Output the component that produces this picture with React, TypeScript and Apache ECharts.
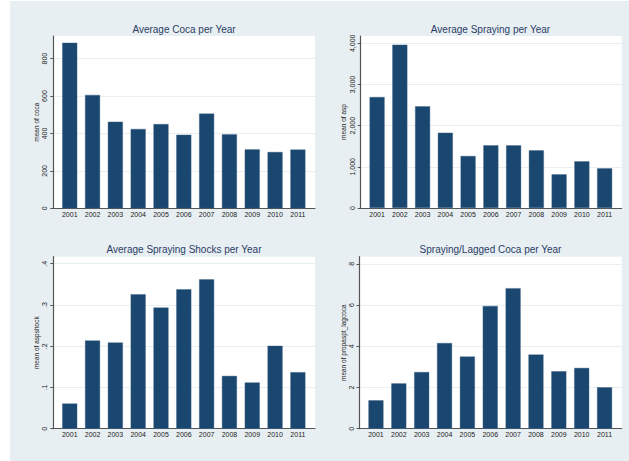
import React, { useEffect, useRef } from "react";
import * as echarts from "echarts";

const years = ["2001", "2002", "2003", "2004", "2005", "2006", "2007", "2008", "2009", "2010", "2011"];
const coca = [885, 606, 463, 424, 450, 393, 506, 396, 315, 301, 314];
const asp = [2696, 3967, 2470, 1829, 1263, 1523, 1523, 1401, 818, 1134, 964];
const aspshock = [0.061, 0.214, 0.209, 0.326, 0.294, 0.338, 0.362, 0.128, 0.112, 0.201, 0.137];
const propLag = [1.38, 2.2, 2.75, 4.16, 3.5, 5.96, 6.82, 3.6, 2.79, 2.95, 2.01];

const cocaTicks = [0, 200, 400, 600, 800];
const aspTicks = [0, 1000, 2000, 3000, 4000];
const shockTicks = [0, 0.1, 0.2, 0.3, 0.4];
const propTicks = [0, 2, 4, 6, 8];

const titles = [
  "Average Coca per Year",
  "Average Spraying per Year",
  "Average Spraying Shocks per Year",
  "Spraying/Lagged Coca per Year",
];
const yNames = ["mean of coca", "mean of asp", "mean of aspshock", "mean of propaspt_lagcoca"];

const NAVY = "#1a476f";
const AXIS = "#555555";
const FONT = "'Liberation Sans', Arial, sans-serif";

export default function App() {
  const ref = useRef<HTMLDivElement>(null);
  useEffect(() => {
    if (!ref.current) return;
    const chart = echarts.init(ref.current, undefined, { renderer: "svg" });

    const panels = [
      { data: coca, ticks: cocaTicks, max: 921, fmt: (v: number) => String(v), grid: { left: 53.3, top: 36, width: 261.7, height: 172.3 }, nameGap: 13.5, titleX: 184, titleY: 24.5 },
      { data: asp, ticks: aspTicks, max: 4178, fmt: (v: number) => v.toLocaleString("en-US"), grid: { left: 360.7, top: 36, width: 261, height: 172 }, nameGap: 13.5, titleX: 490.5, titleY: 24.5 },
      { data: aspshock, ticks: shockTicks, max: 0.417, fmt: (v: number) => (v === 0 ? "0" : String(v).replace(/^0/, "")), grid: { left: 53.3, top: 256.7, width: 261.7, height: 172 }, nameGap: 13.5, titleX: 184, titleY: 244.5 },
      { data: propLag, ticks: propTicks, max: 8.35, fmt: (v: number) => String(v), grid: { left: 359.5, top: 256.7, width: 262.2, height: 172 }, nameGap: 12.5, titleX: 490.5, titleY: 244.5 },
    ];

    const idx = years.map((_, i) => i);

    const option: any = {
      animation: false,
      backgroundColor: "#ffffff",
      textStyle: { fontFamily: FONT },
      graphic: [
        {
          type: "rect",
          left: 10,
          top: 1,
          z: -100,
          silent: true,
          shape: { width: 619, height: 460 },
          style: { fill: "#e8eff2" },
        },
      ],
      title: panels.map((p, i) => ({
        text: titles[i],
        left: p.titleX,
        top: p.titleY,
        textAlign: "center",
        padding: 0,
        textStyle: { fontSize: 10, fontWeight: "normal", color: "#2a3d66", fontFamily: FONT },
      })),
      grid: panels.map((p) => ({
        ...p.grid,
        show: true,
        backgroundColor: "#ffffff",
        borderWidth: 0,
        containLabel: false,
      })),
      xAxis: panels.map((p, i) => ({
        type: "value",
        gridIndex: i,
        min: -0.72,
        max: 10.75,
        axisLine: { show: true, onZero: false, lineStyle: { color: AXIS, width: 1.2 } },
        axisTick: { show: false, customValues: idx },
        splitLine: { show: false },
        axisLabel: {
          customValues: idx,
          formatter: (v: number) => years[Math.round(v)],
          fontSize: 7,
          color: "#222",
          margin: 2.5,
          fontFamily: FONT,
        },
      })),
      yAxis: panels.map((p, i) => ({
        type: "value",
        gridIndex: i,
        min: 0,
        max: p.max,
        name: yNames[i],
        nameLocation: "middle",
        nameGap: p.nameGap,
        nameTextStyle: { fontSize: 6.5, color: "#222", fontFamily: FONT },
        axisLine: { show: true, onZero: false, lineStyle: { color: AXIS, width: 1.2 } },
        axisTick: { show: true, length: 3, customValues: p.ticks, lineStyle: { color: AXIS } },
        splitLine: { show: true, lineStyle: { color: "#e8eff1", width: 1 } },
        axisLabel: {
          customValues: p.ticks,
          formatter: p.fmt,
          rotate: 90,
          fontSize: 7,
          color: "#222",
          margin: 5,
          fontFamily: FONT,
        },
      })),
      series: panels.map((p, i) => ({
        type: "bar",
        xAxisIndex: i,
        yAxisIndex: i,
        barWidth: 15,
        data: p.data.map((v, j) => [j, v]),
        itemStyle: { color: NAVY, borderColor: "#3f6386", borderWidth: 0.4 },
      })),
    };

    chart.setOption(option);
    return () => chart.dispose();
  }, []);

  return (
    <div
      ref={ref}
      style={{ position: "fixed", left: 0, top: 0, width: 629, height: 461 }}
    />
  );
}
